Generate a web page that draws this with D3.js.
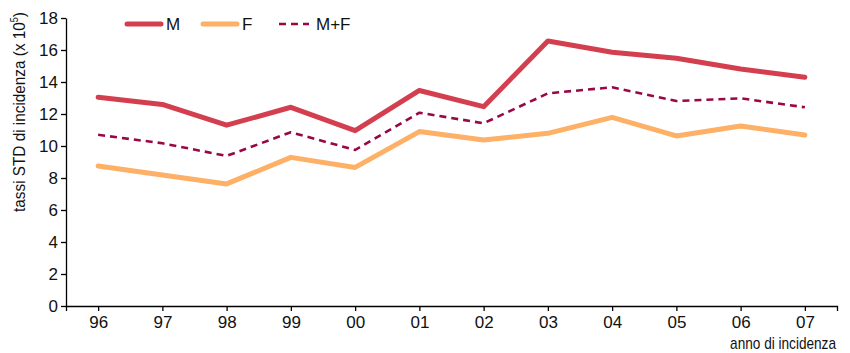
<!DOCTYPE html>
<html>
<head>
<meta charset="utf-8">
<script src="https://cdn.jsdelivr.net/npm/d3@7/dist/d3.min.js"></script>
<style>
  body { margin: 0; background: #fff; }
  svg { display: block; font-family: "Liberation Sans", Arial, sans-serif; }
</style>
</head>
<body>
<svg id="chart" width="850" height="353"></svg>
<script>
// Incidence years (two-digit labels)
const years = ["96", "97", "98", "99", "00", "01", "02", "03", "04", "05", "06", "07"];
// Standardised incidence rates per 100,000
const maleRates   = [13.05, 12.6, 11.3, 12.42, 10.96, 13.47, 12.46, 16.56, 15.86, 15.48, 14.81, 14.3];
const femaleRates = [8.75, 8.19, 7.63, 9.29, 8.66, 10.9, 10.38, 10.79, 11.79, 10.63, 11.25, 10.69];
const totalRates  = [10.7, 10.17, 9.38, 10.86, 9.75, 12.08, 11.42, 13.29, 13.67, 12.81, 12.98, 12.42];
const yTicks = [0, 2, 4, 6, 8, 10, 12, 14, 16, 18];

const series = [
  { name: "M",   values: maleRates,   color: "#d43f4f", width: 5,   dash: null },
  { name: "F",   values: femaleRates, color: "#fdb066", width: 5,   dash: null },
  { name: "M+F", values: totalRates,  color: "#990845", width: 2.6, dash: "7,5" }
];

const svg = d3.select("#chart");
const plotLeft = 66, plotRight = 837, plotTop = 18, plotBottom = 306;

const x = d3.scalePoint().domain(years).range([plotLeft, plotRight]).padding(0.5);
const y = d3.scaleLinear().domain([0, 18]).range([plotBottom, plotTop]);

// Y axis
const yAxis = svg.append("g")
  .attr("transform", `translate(${plotLeft},0)`)
  .call(d3.axisLeft(y).tickValues(yTicks).tickSize(5).tickSizeOuter(0).tickPadding(3));
yAxis.select(".domain").attr("stroke", "#000").attr("stroke-width", 1.3);
yAxis.selectAll(".tick line").attr("stroke", "#000").attr("stroke-width", 1.3);
yAxis.selectAll("text").attr("font-size", 17).attr("fill", "#111");

// X axis
const xAxis = svg.append("g")
  .attr("transform", `translate(0,${plotBottom})`)
  .call(d3.axisBottom(x).tickSize(5).tickSizeOuter(5).tickPadding(5));
xAxis.select(".domain").attr("stroke", "#000").attr("stroke-width", 1.3);
xAxis.selectAll(".tick line").attr("stroke", "#000").attr("stroke-width", 1.3);
xAxis.selectAll("text").attr("font-size", 17).attr("fill", "#111");

// Axis titles use a condensed look: scale horizontally to the target length
function condense(sel, targetLen) {
  const len = sel.node().getComputedTextLength();
  return len > 0 ? targetLen / len : 1;
}

const yTitle = svg.append("text")
  .attr("text-anchor", "middle")
  .attr("font-size", 17)
  .attr("fill", "#111");
yTitle.append("tspan").text("tassi STD di incidenza (x 10");
yTitle.append("tspan").attr("font-size", 10).attr("dy", -7).text("5");
yTitle.append("tspan").attr("dy", 7).text(")");
const ySx = condense(yTitle, 200);
yTitle.attr("transform", `translate(25,112) rotate(-90) scale(${ySx},1)`);

const xTitle = svg.append("text")
  .attr("text-anchor", "end")
  .attr("font-size", 16)
  .attr("fill", "#111")
  .text("anno di incidenza");
const xSx = condense(xTitle, 106);
xTitle.attr("transform", `translate(${plotRight - 1},349) scale(${xSx},1)`);

// Lines
const line = d3.line()
  .x((d, i) => x(years[i]))
  .y(d => y(d));

series.forEach(s => {
  svg.append("path")
    .datum(s.values)
    .attr("fill", "none")
    .attr("stroke", s.color)
    .attr("stroke-width", s.width)
    .attr("stroke-linejoin", "round")
    .attr("stroke-linecap", s.dash ? "butt" : "round")
    .attr("stroke-dasharray", s.dash)
    .attr("d", line);
});

// Legend
const legendItems = [
  { x: 127, len: 34, textX: 166 },
  { x: 203, len: 34, textX: 242 },
  { x: 279, len: 30, textX: 316 }
];
series.forEach((s, i) => {
  const li = legendItems[i];
  svg.append("line")
    .attr("x1", li.x).attr("x2", li.x + li.len)
    .attr("y1", 24).attr("y2", 24)
    .attr("stroke", s.color)
    .attr("stroke-width", s.width)
    .attr("stroke-linecap", s.dash ? "butt" : "round")
    .attr("stroke-dasharray", s.dash);
  svg.append("text")
    .attr("x", li.textX).attr("y", 30)
    .attr("font-size", 17)
    .attr("fill", "#111")
    .text(s.name);
});
</script>
</body>
</html>
